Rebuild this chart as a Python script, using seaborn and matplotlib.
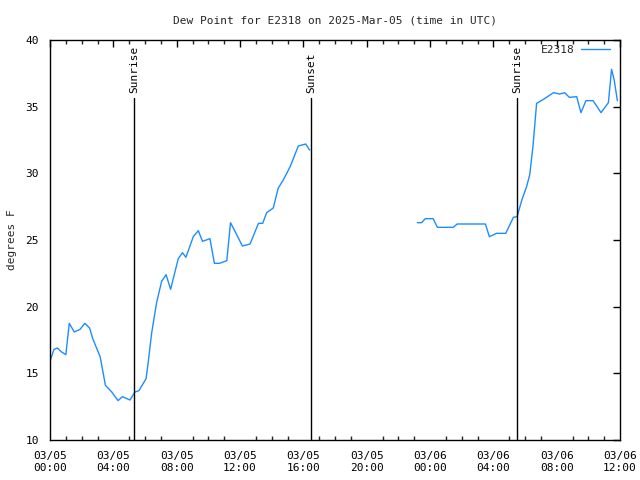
import matplotlib
matplotlib.use("Agg")
import matplotlib.pyplot as plt
import matplotlib.dates as mdates
import pandas as pd
import seaborn as sns

# ---- data ----
times_1 = ["2025-03-05 00:00", "2025-03-05 00:15", "2025-03-05 00:28", "2025-03-05 00:44",
           "2025-03-05 01:00", "2025-03-05 01:13", "2025-03-05 01:32", "2025-03-05 01:54",
           "2025-03-05 02:12", "2025-03-05 02:30", "2025-03-05 02:42", "2025-03-05 03:10",
           "2025-03-05 03:30", "2025-03-05 03:54", "2025-03-05 04:18", "2025-03-05 04:34",
           "2025-03-05 05:03", "2025-03-05 05:22", "2025-03-05 05:37", "2025-03-05 06:04",
           "2025-03-05 06:12", "2025-03-05 06:25", "2025-03-05 06:44", "2025-03-05 07:03",
           "2025-03-05 07:20", "2025-03-05 07:37", "2025-03-05 08:06", "2025-03-05 08:22",
           "2025-03-05 08:35", "2025-03-05 09:03", "2025-03-05 09:22", "2025-03-05 09:38",
           "2025-03-05 10:06", "2025-03-05 10:23", "2025-03-05 10:42", "2025-03-05 11:10",
           "2025-03-05 11:24", "2025-03-05 11:45", "2025-03-05 12:09", "2025-03-05 12:38",
           "2025-03-05 13:10", "2025-03-05 13:26", "2025-03-05 13:41", "2025-03-05 14:06",
           "2025-03-05 14:25", "2025-03-05 14:44", "2025-03-05 15:10", "2025-03-05 15:41",
           "2025-03-05 16:09", "2025-03-05 16:24"]
dewpt_1 = [15.9, 16.8, 16.9, 16.6, 16.4, 18.75, 18.1, 18.3, 18.75, 18.4, 17.6, 16.25,
           14.1, 13.6, 12.95, 13.25, 13.0, 13.6, 13.7, 14.6, 15.8, 18.0, 20.3, 21.9,
           22.4, 21.3, 23.6, 24.05, 23.7, 25.25, 25.7, 24.9, 25.1, 23.25, 23.25, 23.45,
           26.3, 25.5, 24.55, 24.7, 26.25, 26.25, 27.05, 27.4, 28.9, 29.5, 30.5, 32.05,
           32.2, 31.75]

times_2 = ["2025-03-05 23:12", "2025-03-05 23:28", "2025-03-05 23:42", "2025-03-06 00:12",
           "2025-03-06 00:28", "2025-03-06 01:28", "2025-03-06 01:43", "2025-03-06 03:30",
           "2025-03-06 03:45", "2025-03-06 04:12", "2025-03-06 04:47", "2025-03-06 05:16",
           "2025-03-06 05:30", "2025-03-06 05:48", "2025-03-06 06:06", "2025-03-06 06:18",
           "2025-03-06 06:30", "2025-03-06 06:44", "2025-03-06 07:10", "2025-03-06 07:48",
           "2025-03-06 08:12", "2025-03-06 08:30", "2025-03-06 08:48", "2025-03-06 09:16",
           "2025-03-06 09:32", "2025-03-06 09:51", "2025-03-06 10:18", "2025-03-06 10:48",
           "2025-03-06 11:16", "2025-03-06 11:28", "2025-03-06 11:38", "2025-03-06 11:50"]
dewpt_2 = [26.3, 26.3, 26.6, 26.6, 25.95, 25.95, 26.2, 26.2, 25.25, 25.5, 25.5, 26.7,
           26.75, 28.0, 29.0, 29.9, 32.0, 35.25, 35.55, 36.05, 35.95, 36.05, 35.7, 35.75,
           34.55, 35.45, 35.45, 34.55, 35.3, 37.8, 37.0, 35.45]

event_times = ["2025-03-05 05:20", "2025-03-05 16:29", "2025-03-06 05:30"]
event_labels = ["Sunrise", "Sunset", "Sunrise"]

station = "E2318"
title = "Dew Point for E2318 on 2025-Mar-05 (time in UTC)"
y_label = "degrees F"
x_start, x_end = "2025-03-05 00:00", "2025-03-06 12:00"
y_ticks = [10, 15, 20, 25, 30, 35, 40]

# ---- plot ----
sns.set_style("white")
plt.rcParams['font.family'] = ['DejaVu Sans Mono']
plt.rcParams['font.size'] = 8

df1 = pd.DataFrame({"time": pd.to_datetime(times_1), "dewpt": dewpt_1})
df2 = pd.DataFrame({"time": pd.to_datetime(times_2), "dewpt": dewpt_2})

fig = plt.figure(figsize=(6.4, 4.8), dpi=100)
ax = fig.add_axes([50/640, 40/480, 570/640, 400/480])

line_color = "#1e8cff"
sns.lineplot(data=df1, x="time", y="dewpt", ax=ax, color=line_color, linewidth=1,
             label=station)
sns.lineplot(data=df2, x="time", y="dewpt", ax=ax, color=line_color, linewidth=1,
             legend=False)

ymax_frac = (440 - 98) / 400
for t, lab in zip(event_times, event_labels):
    tt = pd.to_datetime(t)
    ax.axvline(tt, ymin=0, ymax=ymax_frac, color="black", linewidth=1)
    ax.text(tt, 10 + 30 * (ymax_frac + 0.012), lab, rotation=90, ha="center",
            va="bottom", fontsize=8, color="black")

ax.set_xlim(pd.to_datetime(x_start), pd.to_datetime(x_end))
ax.set_ylim(y_ticks[0], y_ticks[-1])
ax.set_yticks(y_ticks)
ax.xaxis.set_major_locator(mdates.HourLocator(byhour=range(0, 24, 4)))
ax.xaxis.set_minor_locator(mdates.HourLocator())
ax.xaxis.set_major_formatter(mdates.DateFormatter("%m/%d\n%H:%M"))

ax.tick_params(axis="both", which="major", direction="in", length=5, width=1,
               top=True, right=True, labelsize=8, pad=8, colors="black")
ax.tick_params(axis="x", which="minor", direction="in", length=3, width=1,
               top=True, bottom=True)
for lbl in ax.get_xticklabels():
    lbl.set_horizontalalignment("center")

for s in ax.spines.values():
    s.set_color("black")
    s.set_linewidth(1)

ax.set_xlabel("")
ax.set_ylabel(y_label, fontsize=8, labelpad=6)
ax.set_title(title, fontsize=8, pad=12)

leg = ax.legend(loc="upper right", bbox_to_anchor=(0.99, 0.998), frameon=False,
                markerfirst=False, fontsize=8, handlelength=2.6,
                borderaxespad=0.0, handletextpad=0.6)

fig.savefig("out.png", dpi=100, facecolor="white")
